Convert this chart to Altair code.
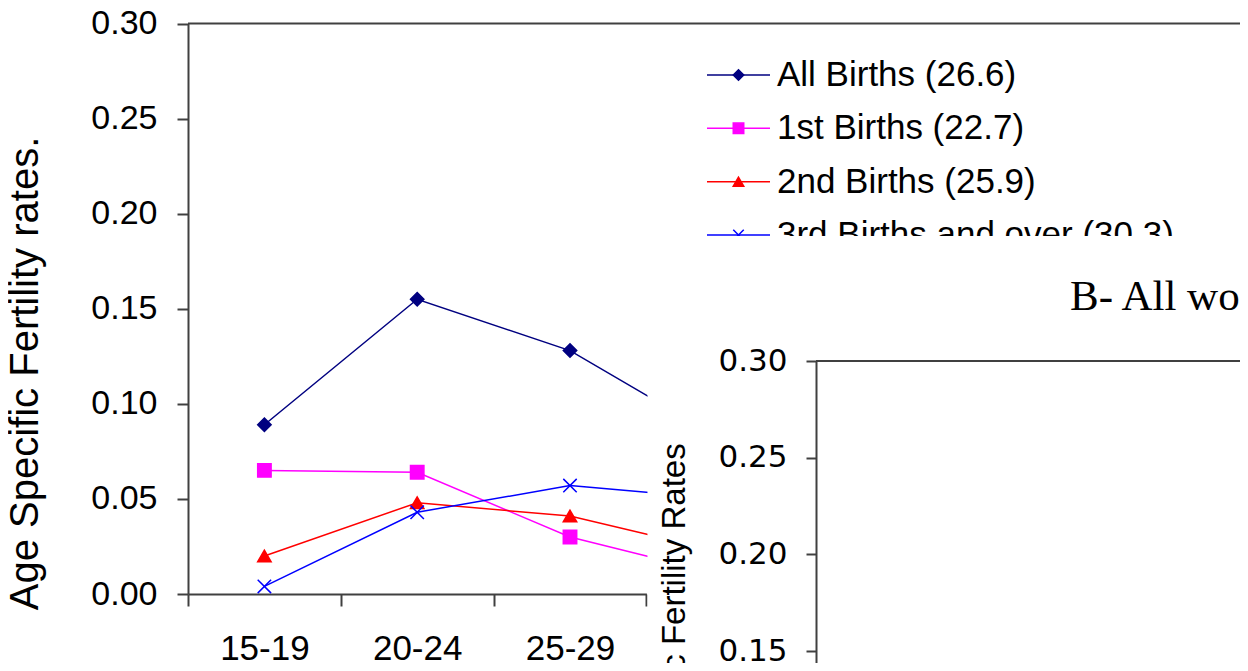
import altair as alt
import pandas as pd

# panel A: age specific fertility rates by birth order
AGE_GROUPS = ["15-19", "20-24", "25-29", "30-34"]
SERIES = [
    "All Births (26.6)",
    "1st Births (22.7)",
    "2nd Births (25.9)",
    "3rd Births and over (30.3)",
]
ALL_BIRTHS = [0.089, 0.155, 0.128, 0.081]
FIRST_BIRTHS = [0.065, 0.064, 0.030, 0.010]
SECOND_BIRTHS = [0.020, 0.048, 0.041, 0.022]
THIRD_PLUS = [0.004, 0.043, 0.057, 0.050]
COLORS = ["#000080", "#FF00FF", "#FF0000", "#0000FF"]
X_MARK = "M-1,-1L1,1M-1,1L1,-1"
SHAPES = ["diamond", "square", "triangle-up", X_MARK]
Y_TICKS = [0, 0.05, 0.10, 0.15, 0.20, 0.25, 0.30]

rows = []
for name, vals in zip(SERIES, [ALL_BIRTHS, FIRST_BIRTHS, SECOND_BIRTHS, THIRD_PLUS]):
    for i, v in enumerate(vals):
        rows.append({"series": name, "age": AGE_GROUPS[i], "pos": i + 0.5, "rate": v})
df = pd.DataFrame(rows)
one = pd.DataFrame({"panel": ["x"]})

# page geometry (the svg starts at 8,8 on the page)
OX, OY = 188, 23
W, H = 1232 - (OX - 8), 571
CAT = 152.8
SHOWN = 3  # age groups left visible before panel B covers the rest


def px(x):
    return x - OX


def py(y):
    return y - OY


AXIS_COLOR = "#404040"
SANS = "Liberation Sans"

ax_scale = alt.Scale(domain=[0, SHOWN], range=[0, CAT * SHOWN])
ay_scale = alt.Scale(domain=[0, 0.30], range=[571, 0.5])
col_scale = alt.Scale(domain=SERIES, range=COLORS)
shape_scale = alt.Scale(domain=SERIES, range=SHAPES)

x_axis = alt.Axis(
    orient="bottom", values=list(range(SHOWN + 1)),
    labelExpr=f"datum.value < {SHOWN} ? {AGE_GROUPS}[datum.value] : ''",
    labelOffset=CAT / 2, labelFlush=False, labelOverlap=False, labelAngle=0,
    labelBaseline="top", labelPadding=25, labelFont=SANS, labelFontSize=35,
    labelColor="black", tickSize=12, tickColor=AXIS_COLOR, tickWidth=2,
    domainColor=AXIS_COLOR, domainWidth=2, grid=False, title=None,
)
y_axis = alt.Axis(
    orient="left", values=Y_TICKS, format=".2f", labelFont=SANS,
    labelFontSize=34, labelColor="black", labelPadding=20, tickSize=11,
    tickColor=AXIS_COLOR, tickWidth=2, domainColor=AXIS_COLOR, domainWidth=2,
    grid=False, title="Age Specific Fertility rates.", titleFont=SANS,
    titleFontSize=40, titleFontWeight="normal", titleColor="black", titleAngle=-90,
    titleBaseline="alphabetic", titleAlign="center", titleX=-151, titleY=350,
)

lines = alt.Chart(df).mark_line(strokeWidth=1.5).encode(
    x=alt.X("pos:Q", scale=ax_scale, axis=x_axis),
    y=alt.Y("rate:Q", scale=ay_scale, axis=y_axis),
    color=alt.Color("series:N", scale=col_scale, legend=None),
)
points = alt.Chart(df).mark_point(filled=True, opacity=1, size=180, strokeWidth=1.5).encode(
    x=alt.X("pos:Q", scale=ax_scale, axis=None),
    y=alt.Y("rate:Q", scale=ay_scale, axis=None),
    fill=alt.Fill("series:N", scale=col_scale, legend=None),
    stroke=alt.Stroke("series:N", scale=col_scale, legend=None),
    shape=alt.Shape("series:N", scale=shape_scale, legend=None),
)
a_top = alt.Chart(one).mark_rule(color=AXIS_COLOR, strokeWidth=2).encode(
    x=alt.X(datum=0, scale=ax_scale, axis=None),
    x2=alt.X2(datum=3 * SHOWN),
    y=alt.Y(datum=Y_TICKS[-1], scale=ay_scale, axis=None),
)

# legend of panel A
leg_df = pd.DataFrame({"series": SERIES})
leg_y = alt.Y(
    "series:N",
    scale=alt.Scale(type="point", domain=SERIES, range=[py(75), py(235)], padding=0),
    axis=None,
)
leg_x = alt.Scale(domain=[0, 1], range=[px(707), px(770)])
leg_line = alt.Chart(leg_df).mark_rule(strokeWidth=1.5).encode(
    x=alt.X(datum=0, scale=leg_x, axis=None), x2=alt.X2(datum=1), y=leg_y,
    color=alt.Color("series:N", scale=col_scale, legend=None),
)
leg_pt = alt.Chart(leg_df).mark_point(filled=True, opacity=1, size=110, strokeWidth=1.5).encode(
    x=alt.X(datum=0.5, scale=leg_x, axis=None), y=leg_y,
    fill=alt.Fill("series:N", scale=col_scale, legend=None),
    stroke=alt.Stroke("series:N", scale=col_scale, legend=None),
    shape=alt.Shape("series:N", scale=shape_scale, legend=None),
)
leg_txt = alt.Chart(leg_df).mark_text(
    align="left", baseline="middle", dx=7, font=SANS, fontSize=35, color="black"
).encode(x=alt.X(datum=1, scale=leg_x, axis=None), y=leg_y, text="series:N")

# panel B lies over the lower right part of panel A
OCC_X0 = 3.007
OCC_Y0 = (571 - py(236)) / (571 - 0.5) * 0.30
occluder = alt.Chart(one).mark_rect(color="white").encode(
    x=alt.X(datum=OCC_X0, scale=ax_scale, axis=None),
    x2=alt.X2(datum=3 * SHOWN),
    y=alt.Y(datum=OCC_Y0, scale=ay_scale, axis=None),
    y2=alt.Y2(datum=-0.1),
)

b_x = alt.Scale(domain=[0, 1], range=[px(816), px(1300)])
b_y = alt.Scale(domain=[0, 0.30], range=[py(941), py(361)])
b_axis = alt.Axis(
    orient="left", offset=-px(816), values=Y_TICKS, format=".2f", zindex=1,
    labelFont="DejaVu Sans", labelFontSize=31, labelColor="black", labelPadding=19,
    tickSize=10, tickColor=AXIS_COLOR, tickWidth=2, domainColor=AXIS_COLOR,
    domainWidth=2, grid=False,
    title="Age Specific Fertility Rates", titleFont=SANS, titleFontSize=33,
    titleFontWeight="normal", titleColor="black", titleAngle=-90,
    titleBaseline="alphabetic", titleAlign="center", titleX=684 - 816, titleY=py(640),
)
panel_b = alt.Chart(one).mark_rule(color=AXIS_COLOR, strokeWidth=2).encode(
    x=alt.X(datum=0, scale=b_x, axis=None),
    x2=alt.X2(datum=1),
    y=alt.Y(datum=Y_TICKS[-1], scale=b_y, axis=b_axis),
)

chart = alt.layer(
    lines, points, a_top, leg_line, leg_pt, leg_txt, occluder, panel_b
).resolve_scale(
    x="independent", y="independent"
).properties(
    width=W,
    height=H,
    autosize=alt.AutoSizeParams(type="none"),
    padding={"left": OX - 8, "top": OY - 8, "right": 0, "bottom": 655 - (OY - 8) - H},
    title=alt.TitleParams(
        "B- All women", anchor="start", frame="group", orient="top", offset=0,
        dx=1070 - OX, dy=346, baseline="alphabetic", font="Liberation Serif",
        fontSize=43, fontWeight="normal", color="black",
    ),
).configure_view(stroke=None)

chart.save("out.html", embed_options={"renderer": "svg", "actions": False})
